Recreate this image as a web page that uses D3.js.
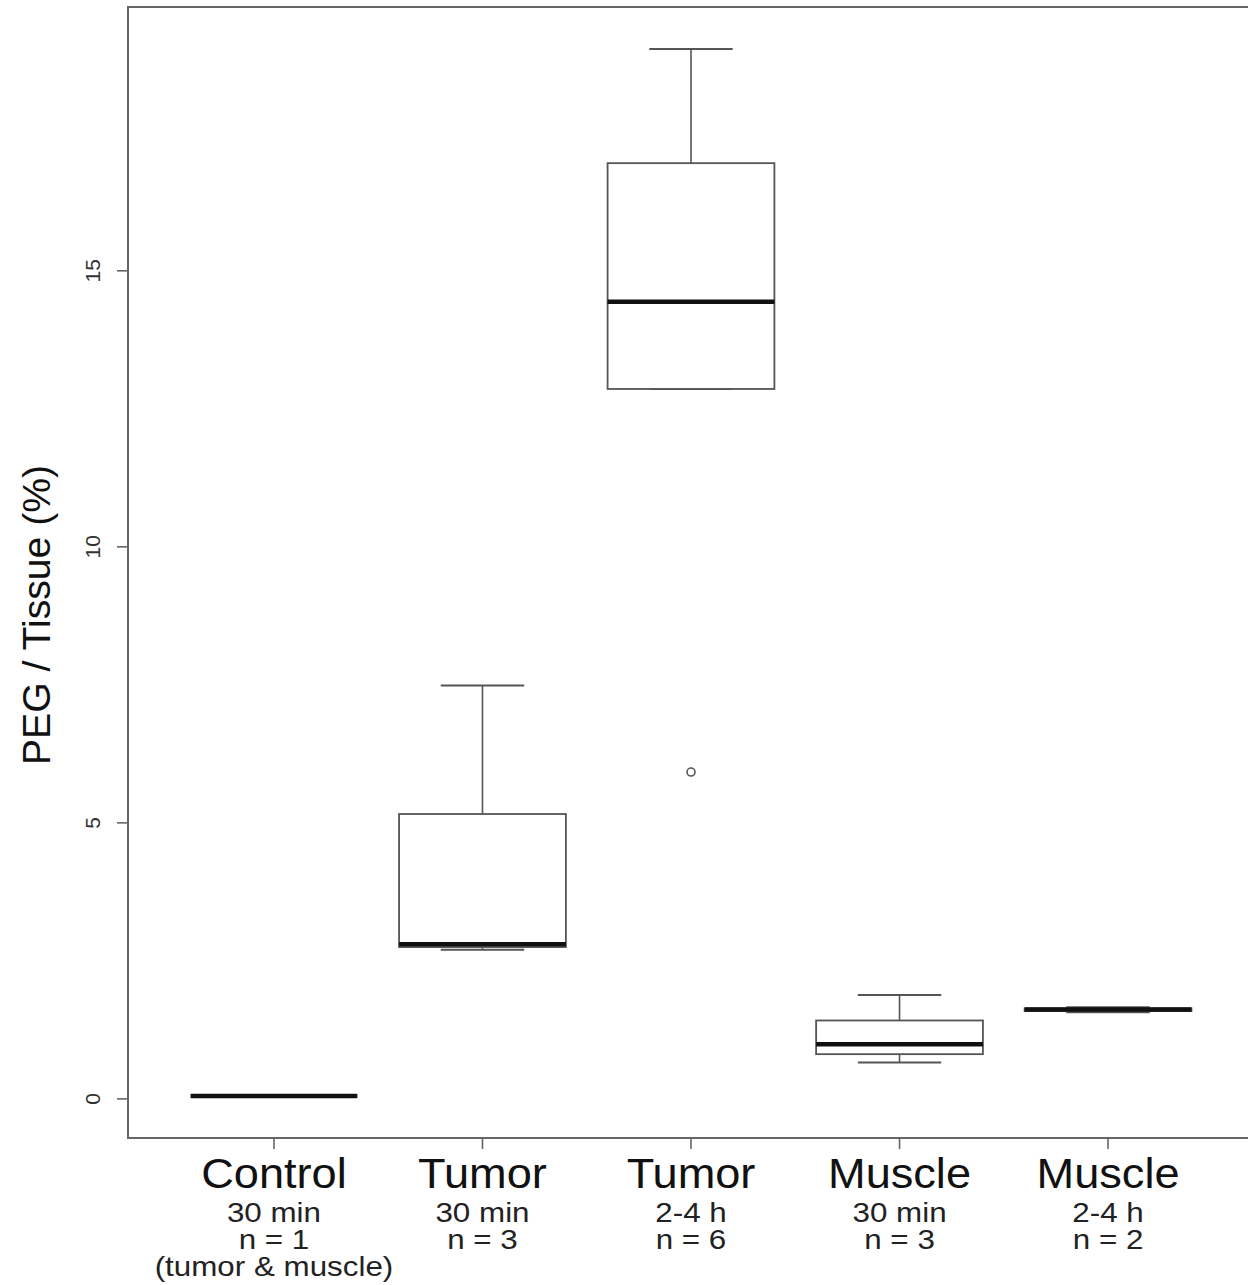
<!DOCTYPE html>
<html>
<head>
<meta charset="utf-8">
<script src="https://cdn.jsdelivr.net/npm/d3@7"></script>
<style>
  body { margin: 0; background: #fff; }
  svg { display: block; font-family: "Liberation Sans", Arial, sans-serif; }
</style>
</head>
<body>
<script>
// groups along the x axis
var groups = ["Control", "Tumor", "Tumor", "Muscle", "Muscle"];
var subLabels = [
  ["30 min", "n = 1", "(tumor & muscle)"],
  ["30 min", "n = 3"],
  ["2-4 h", "n = 6"],
  ["30 min", "n = 3"],
  ["2-4 h", "n = 2"]
];

// box statistics (PEG / Tissue, %)
var whiskerLow  = [0.05, 2.70, 12.86, 0.66, 1.57];
var lowerHinge  = [0.05, 2.75, 12.86, 0.81, 1.59];
var medians     = [0.05, 2.80, 14.44, 0.99, 1.62];
var upperHinge  = [0.05, 5.16, 16.95, 1.42, 1.64];
var whiskerHigh = [0.05, 7.49, 19.02, 1.88, 1.66];
var outliers    = [[], [], [5.92], [], []];

var yTicks = [0, 5, 10, 15];

var width = 1248, height = 1285;
var plot = {left: 128, top: 7, right: 1254, bottom: 1138};

var svg = d3.select("body").append("svg")
    .attr("width", width)
    .attr("height", height);

// R style 4% padding on both axes
var allVals = whiskerLow.concat(whiskerHigh, d3.merge(outliers));
var ext = d3.extent(allVals), pad = (ext[1] - ext[0]) * 0.04;

var y = d3.scaleLinear()
    .domain([ext[0] - pad, ext[1] + pad])
    .range([plot.bottom, plot.top]);

var x = d3.scaleLinear()
    .domain([0.5 - 0.2, groups.length + 0.5 + 0.2])
    .range([plot.left, plot.right]);

var boxHalf = x(1.4) - x(1),
    capHalf = x(1.2) - x(1);

var data = groups.map(function(g, i) {
  return {i: i + 1, lo: whiskerLow[i], q1: lowerHinge[i], med: medians[i],
          q3: upperHinge[i], hi: whiskerHigh[i], out: outliers[i]};
});

var lineCol = "#555";

// plot frame
svg.append("rect")
    .attr("x", plot.left).attr("y", plot.top)
    .attr("width", plot.right - plot.left)
    .attr("height", plot.bottom - plot.top)
    .attr("fill", "none")
    .attr("stroke", "#666")
    .attr("stroke-width", 2);

var g = svg.append("g").selectAll("g")
    .data(data)
    .enter().append("g");

// whiskers
g.append("line")
    .attr("x1", function(d) { return x(d.i); })
    .attr("x2", function(d) { return x(d.i); })
    .attr("y1", function(d) { return y(d.q3); })
    .attr("y2", function(d) { return y(d.hi); })
    .attr("stroke", lineCol).attr("stroke-width", 1.6);
g.append("line")
    .attr("x1", function(d) { return x(d.i); })
    .attr("x2", function(d) { return x(d.i); })
    .attr("y1", function(d) { return y(d.q1); })
    .attr("y2", function(d) { return y(d.lo); })
    .attr("stroke", lineCol).attr("stroke-width", 1.6);

// staples
["lo", "hi"].forEach(function(k) {
  g.append("line")
      .attr("x1", function(d) { return x(d.i) - capHalf; })
      .attr("x2", function(d) { return x(d.i) + capHalf; })
      .attr("y1", function(d) { return y(d[k]); })
      .attr("y2", function(d) { return y(d[k]); })
      .attr("stroke", lineCol).attr("stroke-width", 2);
});

// boxes
g.append("rect")
    .attr("x", function(d) { return x(d.i) - boxHalf; })
    .attr("y", function(d) { return y(d.q3); })
    .attr("width", boxHalf * 2)
    .attr("height", function(d) { return y(d.q1) - y(d.q3); })
    .attr("fill", "#fff")
    .attr("stroke", lineCol).attr("stroke-width", 1.8);

// medians
g.append("line")
    .attr("x1", function(d) { return x(d.i) - boxHalf; })
    .attr("x2", function(d) { return x(d.i) + boxHalf; })
    .attr("y1", function(d) { return y(d.med); })
    .attr("y2", function(d) { return y(d.med); })
    .attr("stroke", "#111").attr("stroke-width", 4.5);

// outliers
g.selectAll("circle")
    .data(function(d) { return d.out.map(function(v) { return {i: d.i, v: v}; }); })
    .enter().append("circle")
    .attr("cx", function(d) { return x(d.i); })
    .attr("cy", function(d) { return y(d.v); })
    .attr("r", 4)
    .attr("fill", "none")
    .attr("stroke", lineCol).attr("stroke-width", 1.6);

// y axis ticks
var yAxis = svg.append("g");
yAxis.selectAll("line")
    .data(yTicks)
    .enter().append("line")
    .attr("x1", plot.left - 11).attr("x2", plot.left)
    .attr("y1", function(d) { return y(d); })
    .attr("y2", function(d) { return y(d); })
    .attr("stroke", "#666").attr("stroke-width", 1.6);
yAxis.selectAll("text")
    .data(yTicks)
    .enter().append("text")
    .attr("transform", function(d) { return "translate(100," + y(d) + ") rotate(-90)"; })
    .attr("text-anchor", "middle")
    .attr("font-size", 21)
    .attr("fill", "#333")
    .text(function(d) { return d; });

// y label
svg.append("text")
    .attr("transform", "translate(50,615) rotate(-90) scale(1.03,1)")
    .attr("text-anchor", "middle")
    .attr("font-size", 38)
    .attr("fill", "#111")
    .text("PEG / Tissue (%)");

// x axis ticks and labels
var xAxis = svg.append("g").selectAll("g")
    .data(data)
    .enter().append("g")
    .attr("transform", function(d) { return "translate(" + x(d.i) + ",0)"; });

xAxis.append("line")
    .attr("y1", plot.bottom).attr("y2", plot.bottom + 11)
    .attr("stroke", "#666").attr("stroke-width", 1.6);

xAxis.append("text")
    .attr("y", 1188)
    .attr("transform", "scale(1.05,1)")
    .attr("text-anchor", "middle")
    .attr("font-size", 43)
    .attr("fill", "#111")
    .text(function(d) { return groups[d.i - 1]; });

// sub labels are set tight in the reference, slightly wide type
xAxis.selectAll("text.sub")
    .data(function(d) { return subLabels[d.i - 1]; })
    .enter().append("text")
    .attr("class", "sub")
    .attr("transform", "scale(1.12,1)")
    .attr("y", function(d, j) { return 1222 + j * 27; })
    .attr("text-anchor", "middle")
    .attr("font-size", 28)
    .attr("fill", "#222")
    .text(function(d) { return d; });
</script>
</body>
</html>
